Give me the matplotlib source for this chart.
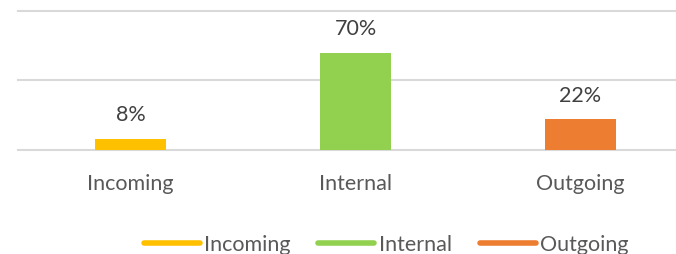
import matplotlib
matplotlib.use("Agg")
import matplotlib.pyplot as plt
from matplotlib.lines import Line2D

categories = ["Incoming", "Internal", "Outgoing"]
values = [8, 70, 22]
labels = ["8%", "70%", "22%"]
colors = ["#FFC000", "#92D050", "#ED7D31"]

W, H = 676, 254
fig = plt.figure(figsize=(W / 100, H / 100), dpi=100)
plt.rcParams['font.family'] = ['Lato', 'DejaVu Sans']
txt = "#595959"
fs = 15.5

ax = fig.add_axes([18 / W, 104 / H, 675 / W, 139 / H])
x = list(range(len(categories)))
ax.bar(x, values, width=0.315, color=colors, zorder=3)
ax.set_xlim(-0.5, 2.5)
ax.set_ylim(0, 100)
ax.set_yticks([0, 50, 100])
ax.yaxis.grid(True, color="#D9D9D9", linewidth=1.5, zorder=0)
for gl in ax.get_ygridlines():
    gl.set_clip_on(False)
ax.tick_params(axis='y', left=False, labelleft=False)
ax.tick_params(axis='x', bottom=False, labelsize=fs, colors=txt, pad=14)
ax.set_xticks(x)
ax.set_xticklabels(categories)
for s in ax.spines.values():
    s.set_visible(False)
for xi, v, lab in zip(x, values, labels):
    ax.annotate(lab, (xi, v), xytext=(0, 17), textcoords="offset points",
                ha="center", va="center", fontsize=fs, color="#404040")

handles = [Line2D([0], [0], color=c, lw=4, solid_capstyle='round') for c in colors]
leg = fig.legend(handles, categories, loc="center", bbox_to_anchor=(386 / W, 1 - 245 / H),
                 ncol=3, frameon=False, fontsize=fs, handlelength=2.6,
                 handletextpad=0.2, columnspacing=1.3, labelcolor=txt,
                 borderpad=0, borderaxespad=0)

fig.savefig("out.png", dpi=100)
